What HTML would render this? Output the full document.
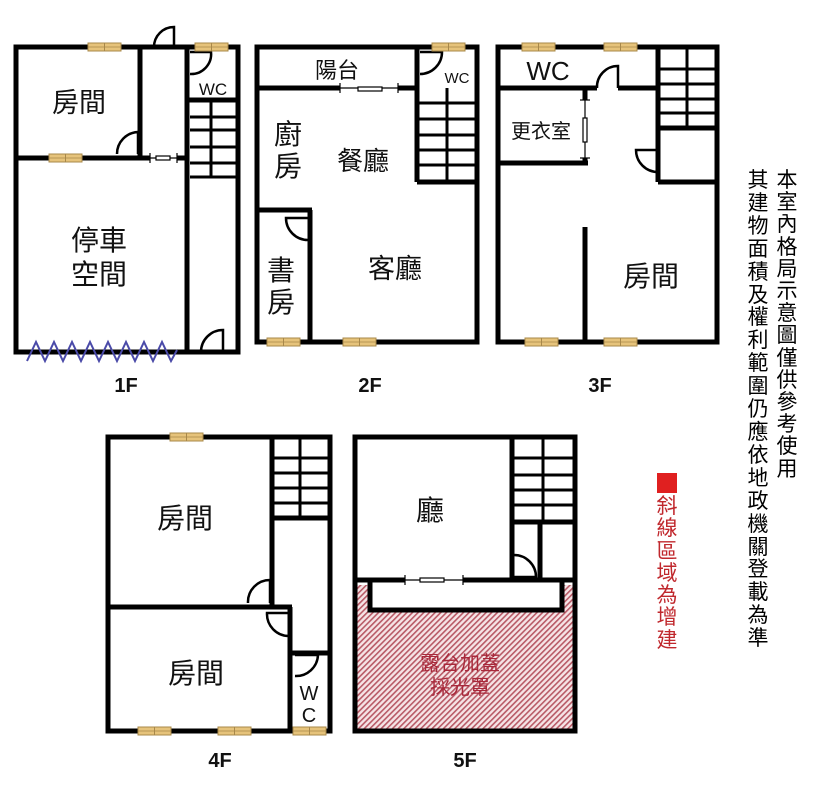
<!DOCTYPE html>
<html><head><meta charset="utf-8"><style>
html,body{margin:0;padding:0;background:#fff;width:828px;height:787px;overflow:hidden;position:relative}
svg{position:absolute;left:0;top:0}
.v{position:absolute;font-family:"Liberation Sans","Noto Sans CJK TC",sans-serif;font-size:21px;width:22px;text-align:center;word-break:break-all}
</style></head><body>
<svg width="828" height="787" viewBox="0 0 828 787" font-family="Liberation Sans, Noto Sans CJK TC, sans-serif">
<defs>
<pattern id="h" width="4" height="4" patternUnits="userSpaceOnUse" patternTransform="rotate(45)">
<rect width="4" height="4" fill="#f6e4e6"/><rect width="1.6" height="4" fill="#b85a66"/></pattern>
<g id="w"><rect x="0" y="-4" width="33" height="8" fill="#e6c37b" stroke="#a8884a" stroke-width="1"/><line x1="16.5" y1="-4" x2="16.5" y2="4" stroke="#a8884a" stroke-width="1"/><line x1="0" y1="0" x2="33" y2="0" stroke="#a8884a" stroke-width="0.8"/></g>
</defs>
<!-- 5F hatch -->
<path d="M357,585 L370,585 L370,610 L562,610 L562,585 L573,585 L573,729 L357,729 Z" fill="url(#h)"/>
<g fill="none" stroke="#000" stroke-width="5">
<!-- 1F -->
<rect x="16" y="47" width="222" height="305"/>
<line x1="140" y1="47" x2="140" y2="160"/>
<line x1="16" y1="158" x2="150" y2="158"/>
<line x1="177" y1="158" x2="187" y2="158"/>
<line x1="187" y1="47" x2="187" y2="352"/>
<line x1="187" y1="100" x2="238" y2="100"/>
<!-- 2F -->
<rect x="257" y="47" width="220" height="295"/>
<line x1="257" y1="88" x2="340" y2="88"/>
<line x1="398" y1="88" x2="417" y2="88"/>
<line x1="417" y1="47" x2="417" y2="182"/>
<line x1="417" y1="182" x2="477" y2="182"/>
<line x1="257" y1="210" x2="312" y2="210"/>
<line x1="310" y1="210" x2="310" y2="342"/>
<!-- 3F -->
<rect x="498" y="47" width="219" height="295"/>
<line x1="498" y1="88" x2="597" y2="88"/>
<line x1="618" y1="88" x2="658" y2="88"/>
<line x1="658" y1="47" x2="658" y2="182"/>
<line x1="658" y1="182" x2="717" y2="182"/>
<line x1="658" y1="128" x2="717" y2="128"/>
<line x1="498" y1="163" x2="588" y2="163"/>
<line x1="585" y1="227" x2="585" y2="342"/>
<!-- 4F -->
<rect x="108" y="437" width="222" height="294"/>
<line x1="272" y1="437" x2="272" y2="609"/>
<line x1="108" y1="607" x2="292" y2="607"/>
<line x1="290" y1="607" x2="290" y2="731"/>
<line x1="272" y1="518" x2="330" y2="518"/>
<line x1="290" y1="653" x2="330" y2="653"/>
<!-- 5F -->
<rect x="355" y="437" width="220" height="294"/>
<line x1="512" y1="437" x2="512" y2="582"/>
<line x1="540" y1="522" x2="540" y2="582"/>
<line x1="512" y1="522" x2="575" y2="522"/>
<line x1="355" y1="580" x2="405" y2="580"/>
<line x1="463" y1="580" x2="575" y2="580"/>
<path d="M370,580 L370,610 L562,610 L562,580"/>
</g>
<g fill="none" stroke="#000" stroke-width="3">
<!-- 1F stairs -->
<line x1="190" y1="117" x2="236" y2="117"/><line x1="190" y1="130" x2="236" y2="130"/><line x1="190" y1="147" x2="236" y2="147"/><line x1="190" y1="163" x2="236" y2="163"/><line x1="190" y1="177" x2="236" y2="177"/><line x1="211" y1="100" x2="211" y2="177"/>
<!-- 2F stairs -->
<line x1="419" y1="103" x2="475" y2="103"/><line x1="419" y1="119" x2="475" y2="119"/><line x1="419" y1="135" x2="475" y2="135"/><line x1="419" y1="150" x2="475" y2="150"/><line x1="419" y1="165" x2="475" y2="165"/><line x1="447" y1="88" x2="447" y2="182"/>
<!-- 3F stairs -->
<line x1="660" y1="69" x2="715" y2="69"/><line x1="660" y1="84" x2="715" y2="84"/><line x1="660" y1="99" x2="715" y2="99"/><line x1="660" y1="113" x2="715" y2="113"/><line x1="687" y1="47" x2="687" y2="128"/>
<!-- 4F stairs -->
<line x1="274" y1="458" x2="328" y2="458"/><line x1="274" y1="473" x2="328" y2="473"/><line x1="274" y1="488" x2="328" y2="488"/><line x1="274" y1="503" x2="328" y2="503"/><line x1="300" y1="437" x2="300" y2="518"/>
<!-- 5F stairs -->
<line x1="514" y1="458" x2="573" y2="458"/><line x1="514" y1="475" x2="573" y2="475"/><line x1="514" y1="490" x2="573" y2="490"/><line x1="514" y1="505" x2="573" y2="505"/><line x1="543" y1="437" x2="543" y2="522"/>
</g>
<!-- doors -->
<g fill="none" stroke="#000" stroke-width="2.5">
<path d="M174,47 L174,27 A20,20 0 0 0 154,47"/>
<path d="M138,154 L138,132 A22,22 0 0 0 117,154"/>
<path d="M190,52 L211,52 A20,20 0 0 1 190,74"/>
<path d="M223,352 L223,330 A22,22 0 0 0 201,352"/>
<path d="M420,52 L442,52 A22,22 0 0 1 420,74"/>
<path d="M308,218 L286,218 A22,22 0 0 0 308,240"/>
<path d="M618,88 L618,66 A21,21 0 0 0 597,88"/>
<path d="M658,150 L636,150 A22,22 0 0 0 658,172"/>
<path d="M270,603 L270,580 A22,22 0 0 0 248,603"/>
<path d="M289,613 L267,613 A22,22 0 0 0 289,636"/>
<path d="M295,655 L318,655 A22,22 0 0 1 295,676"/>
<path d="M514,555 A22,22 0 0 1 536,577 L514,577"/>
</g>
<!-- sliding doors -->
<g stroke="#000" stroke-width="1.2" fill="#fff">
<line x1="150" y1="153" x2="150" y2="163"/><line x1="177" y1="153" x2="177" y2="163"/><line x1="150" y1="158" x2="177" y2="158"/><rect x="156" y="156" width="14" height="4"/>
<line x1="340" y1="83" x2="340" y2="93"/><line x1="398" y1="83" x2="398" y2="93"/><line x1="340" y1="88" x2="398" y2="88"/><rect x="358" y="87" width="24" height="4"/>
<line x1="580" y1="100" x2="590" y2="100"/><line x1="580" y1="158" x2="590" y2="158"/><line x1="585" y1="100" x2="585" y2="158"/><rect x="583" y="118" width="4" height="24"/>
<line x1="405" y1="575" x2="405" y2="585"/><line x1="463" y1="575" x2="463" y2="585"/><line x1="405" y1="580" x2="463" y2="580"/><rect x="420" y="578" width="24" height="4"/>
</g>
<line x1="585" y1="88" x2="585" y2="100" stroke="#000" stroke-width="5"/>
<line x1="585" y1="158" x2="585" y2="165" stroke="#000" stroke-width="5"/>
<!-- windows -->
<use href="#w" x="88" y="47"/><use href="#w" x="195" y="47"/><use href="#w" x="49" y="158"/>
<use href="#w" x="432" y="47"/><use href="#w" x="267" y="342"/><use href="#w" x="343" y="342"/>
<use href="#w" x="522" y="47"/><use href="#w" x="604" y="47"/><use href="#w" x="525" y="342"/><use href="#w" x="604" y="342"/>
<use href="#w" x="170" y="437"/><use href="#w" x="138" y="731"/><use href="#w" x="218" y="731"/><use href="#w" x="293" y="731"/>
<!-- zigzag -->
<polyline points="27,361 36,342 45,361 54,342 63,361 72,342 81,361 90,342 99,361 108,342 117,361 126,342 135,361 144,342 153,361 162,342 171,361 177,350" fill="none" stroke="#4a4aa8" stroke-width="2"/>
<!-- labels -->
<g fill="#111" text-anchor="middle">
<text x="79" y="112" font-size="27">房間</text>
<text x="213" y="95" font-size="17">WC</text>
<text x="99" y="250" font-size="28">停車</text>
<text x="99" y="284" font-size="28">空間</text>
<text x="337" y="78" font-size="22">陽台</text>
<text x="457" y="83" font-size="15">WC</text>
<text x="288" y="144" font-size="28">廚</text>
<text x="288" y="176" font-size="28">房</text>
<text x="363" y="170" font-size="26">餐廳</text>
<text x="281" y="280" font-size="28">書</text>
<text x="281" y="312" font-size="28">房</text>
<text x="395" y="278" font-size="27">客廳</text>
<text x="548" y="80" font-size="26">WC</text>
<text x="541" y="138" font-size="20">更衣室</text>
<text x="651" y="286" font-size="28">房間</text>
<text x="185" y="528" font-size="28">房間</text>
<text x="196" y="683" font-size="28">房間</text>
<text x="309" y="700" font-size="20">W</text>
<text x="309" y="722" font-size="20">C</text>
<text x="430" y="520" font-size="28">廳</text>
<text x="460" y="670" font-size="20" fill="#a8283a">露台加蓋</text>
<text x="460" y="694" font-size="20" fill="#a8283a">採光罩</text>
<g font-size="20" font-weight="bold">
<text x="126" y="392">1F</text><text x="370" y="392">2F</text><text x="600" y="392">3F</text>
<text x="220" y="767">4F</text><text x="465" y="767">5F</text>
</g>
</g>
<rect x="657" y="473" width="20" height="20" fill="#e02020"/>
</svg>
<div class="v" style="left:776px;top:170px;line-height:22.2px">本室內格局示意圖僅供參考使用</div>
<div class="v" style="left:747px;top:170px;line-height:22.9px">其建物面積及權利範圍仍應依地政機關登載為準</div>
<div class="v" style="left:656px;top:496px;line-height:22.3px;color:#c0282d">斜線區域為增建</div>
</body></html>
